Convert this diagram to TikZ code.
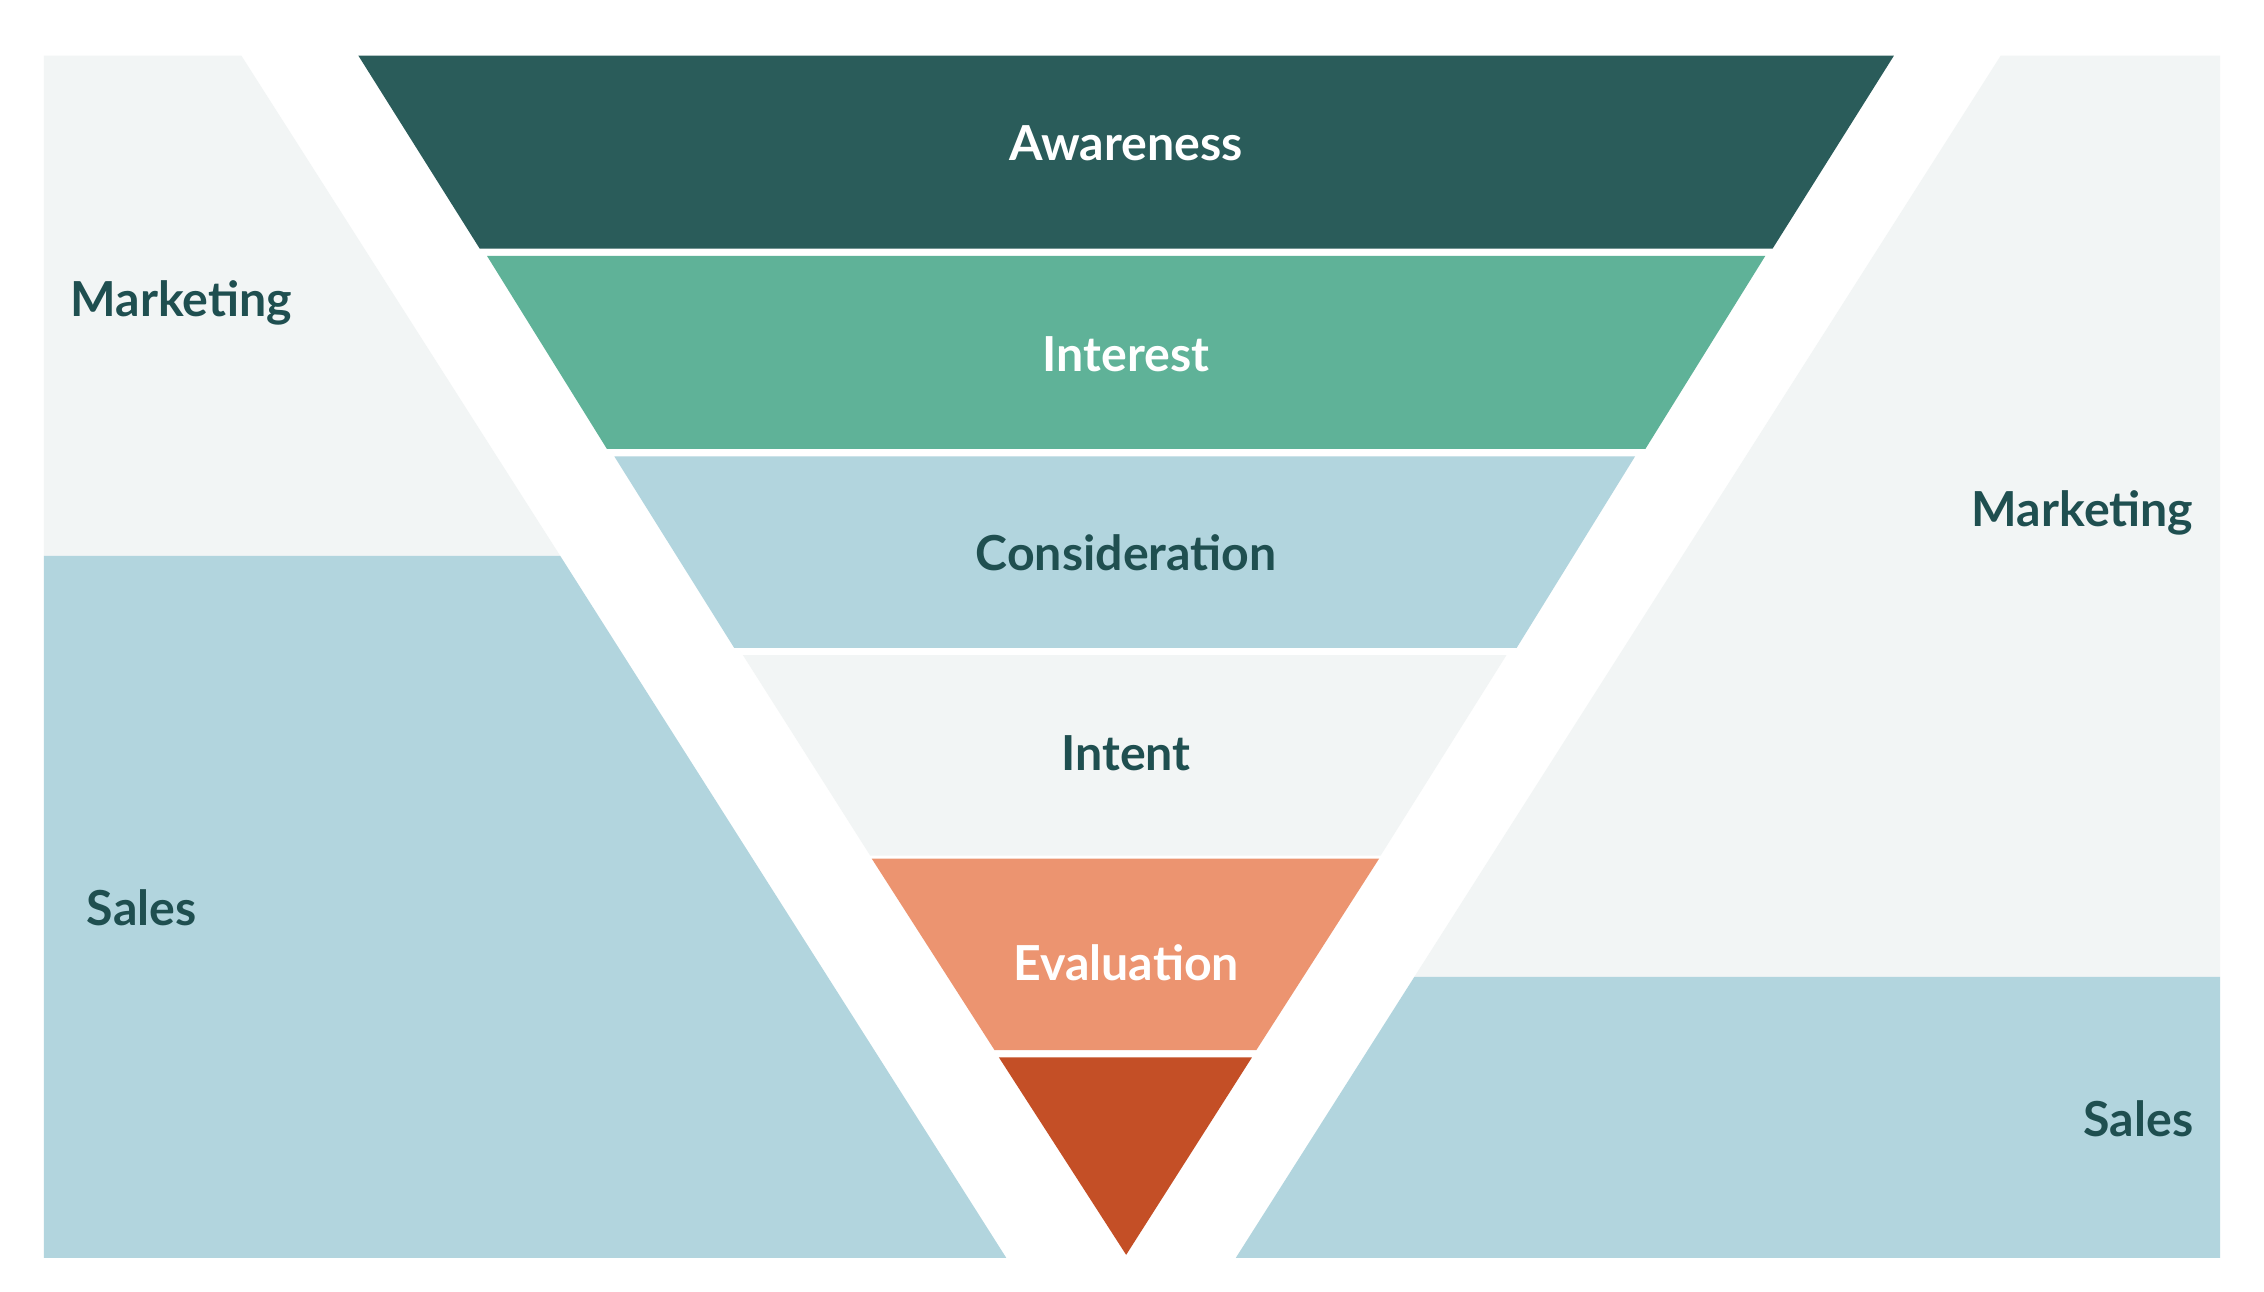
\documentclass[tikz,border=0pt]{standalone}
\usepackage{fontspec}
\setmainfont{Lato}
\definecolor{cAw}{HTML}{2A5C5A}
\definecolor{cIn}{HTML}{5FB298}
\definecolor{cCo}{HTML}{B2D5DE}
\definecolor{cIt}{HTML}{F2F5F5}
\definecolor{cEv}{HTML}{EC9470}
\definecolor{cLa}{HTML}{C44F26}
\definecolor{cTx}{HTML}{1F4F50}
\begin{document}
\begin{tikzpicture}[x=0.5pt,y=-0.5pt,
 lbl/.style={font=\fontsize{16.5}{19}\selectfont\bfseries,inner sep=0pt}]
\useasboundingbox (0,0) rectangle (1548,883);
\fill[white] (0,0) rectangle (1548,883);
% left side
\fill[cIt] (30,38) -- (165,38) -- (383,380) -- (30,380) -- cycle;
\fill[cCo] (30,380) -- (383,380) -- (688,860) -- (30,860) -- cycle;
% right side
\fill[cIt] (1368,38) -- (1518,38) -- (1518,668) -- (967,668) -- cycle;
\fill[cCo] (967,668) -- (1518,668) -- (1518,860) -- (845,860) -- cycle;
% funnel
\fill[cAw] (245,38) -- (1295,38) -- (1212,170) -- (328,170) -- cycle;
\fill[cIn] (333,175) -- (1207,175) -- (1125,307) -- (415,307) -- cycle;
\fill[cCo] (420,312) -- (1118,312) -- (1037,443) -- (502,443) -- cycle;
\fill[cIt] (508,448) -- (1030,448) -- (944,585) -- (595,585) -- cycle;
\fill[cEv] (596,587) -- (943,587) -- (859,718) -- (680,718) -- cycle;
\fill[cLa] (683,723) -- (856,723) -- (770,858) -- cycle;
% labels
\node[lbl,text=white] (a) at (770,98) {Awareness};
\node[lbl,text=white] (b) at (770,242) {Interest};
\node[lbl,text=cTx] (c) at (770,378) {Consideration};
\node[lbl,text=cTx] (d) at (770,515) {Intent};
\node[lbl,text=white] (e) at (770,658) {Evaluation};
\node[lbl,text=cTx,anchor=west] (lm) at (48,207) {Marketing};
\node[lbl,text=cTx,anchor=west] (ls) at (59,621) {Sales};
\node[lbl,text=cTx,anchor=east] (rm) at (1500,351) {Marketing};
\node[lbl,text=cTx,anchor=east] (rs) at (1500,765) {Sales};
\end{tikzpicture}
\end{document}
